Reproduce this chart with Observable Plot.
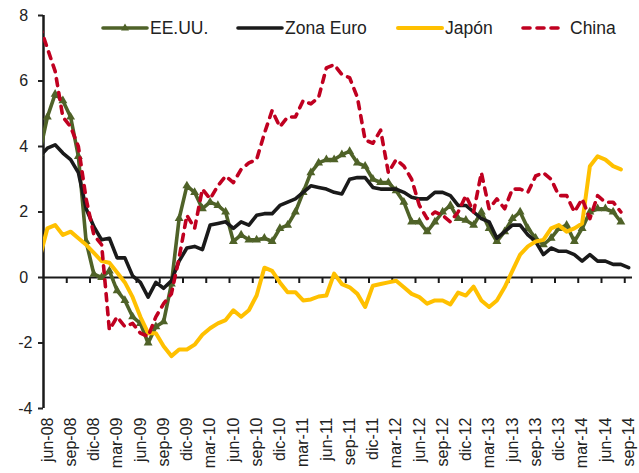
<!DOCTYPE html>
<html><head><meta charset="utf-8">
<script src="https://cdn.jsdelivr.net/npm/d3@7"></script>
<script src="https://cdn.jsdelivr.net/npm/@observablehq/plot@0.6"></script>
<style>
body{margin:0;background:#fff;}
#wrap{position:relative;width:639px;height:473px;font-family:"Liberation Sans",Arial,sans-serif;}
.leg{position:absolute;top:18px;height:20px;display:flex;align-items:center;font-size:17.5px;color:#222;white-space:nowrap;}
.sw{position:absolute;top:22px;}
</style></head><body><div id="wrap"></div>
<script>
// Categories: monthly, may-08 .. sep-14 (may-08 lies just left of the plot and is clipped)
const monthNames = ["ene","feb","mar","abr","may","jun","jul","ago","sep","oct","nov","dic"];
const months = [];
for (let y = 2008; y <= 2014; y++) for (let m = 0; m < 12; m++) {
  if ((y === 2008 && m < 4) || (y === 2014 && m > 8)) continue;
  months.push(monthNames[m] + "-" + String(y).slice(2));
}
const tickLabels = ["jun-08","sep-08","dic-08","mar-09","jun-09","sep-09","dic-09","mar-10","jun-10","sep-10","dic-10","mar-11","jun-11","sep-11","dic-11","mar-12","jun-12","sep-12","dic-12","mar-13","jun-13","sep-13","dic-13","mar-14","jun-14","sep-14"];
const yTicks = [-4, -2, 0, 2, 4, 6, 8];

const seriesNames = ["EE.UU.", "Zona Euro", "Japón", "China"];
const seriesColors = ["#4f6228", "#1a1a1a", "#ffc000", "#c00020"];

const usValues = [
  3.8, 4.9, 5.6, 5.4, 4.9, 3.7, 1.1, 0.1,
  0.0, 0.2, -0.4, -0.7, -1.2, -1.4, -2.0, -1.5, -1.35, -0.2, 1.8, 2.8,
  2.6, 2.1, 2.3, 2.2, 2.0, 1.1, 1.3, 1.15, 1.15, 1.2, 1.1, 1.5,
  1.6, 2.0, 2.6, 3.2, 3.5, 3.6, 3.6, 3.75, 3.85, 3.5, 3.4, 3.0,
  2.9, 2.9, 2.65, 2.3, 1.7, 1.7, 1.4, 1.7, 2.0, 2.2, 1.8, 1.75,
  1.6, 2.0, 1.5, 1.1, 1.4, 1.8, 2.0, 1.5, 1.2, 1.0, 1.2, 1.5,
  1.6, 1.1, 1.5, 2.0, 2.1, 2.1, 2.0, 1.7
];
const euroValues = [
  3.7, 3.95, 4.05, 3.8, 3.6, 3.2, 2.1, 1.55,
  1.15, 1.2, 0.6, 0.6, 0.05, -0.15, -0.6, -0.15, -0.33, -0.1, 0.5, 0.9,
  0.95, 0.85, 1.6, 1.65, 1.7, 1.5, 1.7, 1.6, 1.9, 1.95, 1.95, 2.2,
  2.3, 2.4, 2.6, 2.8, 2.75, 2.7, 2.6, 2.55, 3.0, 3.05, 3.05, 2.75,
  2.7, 2.7, 2.7, 2.6, 2.45, 2.4, 2.4, 2.6, 2.6, 2.5, 2.2, 2.2,
  2.0, 1.8, 1.7, 1.2, 1.4, 1.6, 1.6, 1.3, 1.1, 0.7, 0.9, 0.8,
  0.8, 0.7, 0.5, 0.7, 0.5, 0.5, 0.4, 0.4, 0.3
];
const japanValues = [
  0.6, 1.5, 1.6, 1.3, 1.4, 1.2, 1.0, 0.75,
  0.5, 0.45, 0.15, -0.15, -0.6, -1.2, -1.7, -1.7, -2.1, -2.4, -2.2, -2.2,
  -2.05, -1.75, -1.55, -1.4, -1.3, -1.0, -1.2, -1.0, -0.55, 0.3, 0.2, -0.15,
  -0.45, -0.45, -0.7, -0.67, -0.58, -0.55, 0.12, -0.2, -0.3, -0.5, -0.9, -0.25,
  -0.2, -0.15, -0.1, -0.3, -0.5, -0.6, -0.8, -0.7, -0.7, -0.82, -0.46, -0.55,
  -0.28, -0.7, -0.9, -0.7, -0.3, 0.2, 0.7, 0.95, 1.1, 1.15, 1.5, 1.6,
  1.4, 1.5, 1.65, 3.4, 3.7, 3.6, 3.4, 3.3
];
const chinaValues = [
  7.7, 7.0, 6.3, 4.9, 4.6, 4.0, 2.4, 1.3,
  1.0, -1.6, -1.2, -1.5, -1.4, -1.7, -1.8, -1.2, -0.8, -0.5, 0.6, 1.9,
  1.5, 2.7, 2.4, 2.8, 3.1, 2.9, 3.3, 3.5, 3.6, 4.4, 5.1, 4.6,
  4.9, 4.9, 5.4, 5.3, 5.5, 6.4, 6.5, 6.2, 6.1, 5.5, 4.2, 4.1,
  4.5, 3.2, 3.6, 3.4, 3.0, 2.2, 1.8, 2.0, 1.9, 1.7, 2.0, 2.5,
  2.0, 3.2, 2.1, 2.4, 2.1, 2.7, 2.7, 2.6, 3.1, 3.2, 3.0, 2.5,
  2.5, 2.0, 2.4, 1.8, 2.5, 2.3, 2.3, 2.0
];

const first = months.indexOf(tickLabels[0]);          // jun-08 = position 0
const pos = m => months.indexOf(m) - first;
const rows = vals => vals.map((v, i) => ({x: i - first, month: months[i], v})).filter(d => d.v != null);
const xDomain = [-0.5, months.length - first - 0.5];
const labelPos = tickLabels.map(pos);
const boundaries = labelPos.slice(1).map(p => p - 0.5);

const font = '"Liberation Sans", Arial, sans-serif';
const lineOpts = (c, extra = {}) => ({x: "x", y: "v", stroke: c, strokeWidth: 3.6, strokeLinejoin: "round", strokeLinecap: "round", clip: true, ...extra});

const chart = Plot.plot({
  width: 639, height: 473,
  marginTop: 15, marginBottom: 65, marginLeft: 43, marginRight: 7,
  x: {domain: xDomain},
  y: {domain: [-4, 8]},
  style: {fontFamily: font, fontSize: "16px", color: "#222", background: "white", overflow: "visible"},
  marks: [
    Plot.axisY({ticks: yTicks, label: null, tickSize: 5, tickPadding: 6, strokeWidth: 2, fontSize: 16,
      tickFormat: d => d < 0 ? "-" + (-d) : d + "\u00a0"}),
    Plot.axisX({ticks: labelPos, label: null, tickSize: 0, tickPadding: 9, tickRotate: -90, fontSize: 16,
      tickFormat: p => tickLabels[labelPos.indexOf(p)]}),
    Plot.ruleY([0], {stroke: "#1a1a1a", strokeWidth: 2}),
    Plot.ruleX(boundaries, {x: d => d, y1: 0, y2: 0, insetBottom: -6, stroke: "#1a1a1a", strokeWidth: 2}),
    Plot.ruleX([xDomain[0]], {stroke: "#1a1a1a", strokeWidth: 2.5}),
    Plot.line(rows(usValues), lineOpts(seriesColors[0])),
    Plot.dot(rows(usValues), {x: "x", y: "v", symbol: "triangle", r: 3.3, fill: seriesColors[0], clip: true}),
    Plot.line(rows(euroValues), lineOpts(seriesColors[1])),
    Plot.line(rows(japanValues), lineOpts(seriesColors[2], {strokeWidth: 4})),
    Plot.line(rows(chinaValues), lineOpts(seriesColors[3], {strokeDasharray: "7,7"}))
  ]
});
const wrap = document.getElementById("wrap");
wrap.appendChild(chart);

// Legend (HTML, overlaid at top of the chart)
const legendLayout = [
  {sw: 103, swW: 44, tx: 150},
  {sw: 238, swW: 44, tx: 285},
  {sw: 398, swW: 44, tx: 445},
  {sw: 523, swW: 40, tx: 570}
];
seriesNames.forEach((name, k) => {
  const L = legendLayout[k];
  const ns = "http://www.w3.org/2000/svg";
  const s = document.createElementNS(ns, "svg");
  s.setAttribute("width", L.swW + 4); s.setAttribute("height", 12);
  s.setAttribute("class", "sw");
  s.style.left = (L.sw - 2) + "px";
  const ln = document.createElementNS(ns, "line");
  ln.setAttribute("x1", 2); ln.setAttribute("x2", L.swW + 2);
  ln.setAttribute("y1", 6); ln.setAttribute("y2", 6);
  ln.setAttribute("stroke", seriesColors[k]);
  ln.setAttribute("stroke-width", k === 2 ? 4 : 3.6);
  ln.setAttribute("stroke-linecap", "round");
  if (k === 3) ln.setAttribute("stroke-dasharray", "7,7");
  s.appendChild(ln);
  if (k === 0) {
    const tri = document.createElementNS(ns, "path");
    const cx = L.swW / 2 + 2;
    tri.setAttribute("d", `M${cx},1.5L${cx + 4},8.5L${cx - 4},8.5Z`);
    tri.setAttribute("fill", seriesColors[0]);
    s.appendChild(tri);
  }
  wrap.appendChild(s);
  const t = document.createElement("div");
  t.className = "leg";
  t.style.left = L.tx + "px";
  t.textContent = name;
  wrap.appendChild(t);
});
</script></body></html>
